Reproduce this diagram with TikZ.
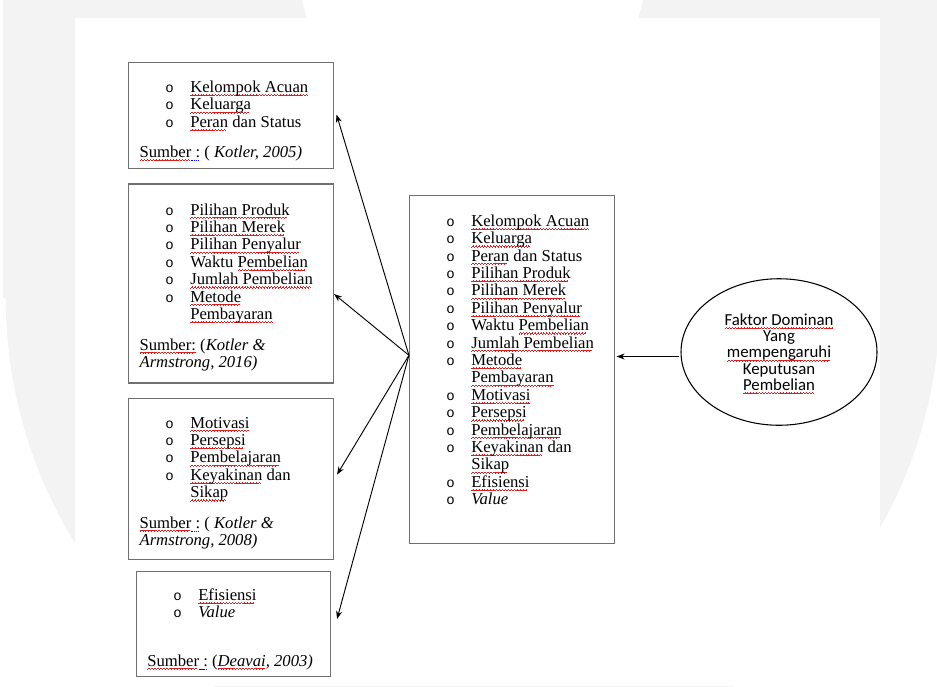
\documentclass[tikz,border=0pt]{standalone}
\usepackage{fontspec}
\setmainfont{Liberation Serif}
\newfontfamily\calfont{Carlito}
\newfontfamily\courfont{Liberation Mono}
\usetikzlibrary{arrows.meta,shapes.geometric,calc}
\definecolor{wm}{RGB}{243,243,243}
\definecolor{bord}{RGB}{112,112,112}
\definecolor{sqred}{RGB}{220,30,30}
\newsavebox\sqbox
\newcommand\wavepiece{\rule[0pt]{0.55pt}{0.5pt}\rule[0.45pt]{0.55pt}{0.5pt}\rule[0.9pt]{0.55pt}{0.5pt}\rule[0.45pt]{0.55pt}{0.5pt}}
\newcommand\rw[1]{\sbox\sqbox{#1}\leavevmode\rlap{\raisebox{-2.7pt}[0pt][0pt]{\color{sqred}\leaders\hbox{\wavepiece}\hskip\wd\sqbox}}\usebox\sqbox}
\newcommand\bw[1]{\sbox\sqbox{#1}\leavevmode\rlap{\raisebox{-2.5pt}[0pt][0pt]{\color{blue}\leaders\hbox{\rule{1.2pt}{0.5pt}\hskip0.4pt}\hskip\wd\sqbox}}\usebox\sqbox}
\newcommand\bu{{\courfont\fontsize{10.5}{10}\selectfont o}&}
\newcommand\blist[1]{\begin{tabular}[t]{@{}p{18.6pt}@{}l@{}}#1\end{tabular}}
\newcommand\slist[1]{\begin{tabular}[t]{@{}l@{}}#1\end{tabular}}
\begin{document}
\begin{tikzpicture}[x=0.75pt,y=-0.75pt,
  box/.style={draw=bord,line width=0.8pt,rectangle,inner sep=0pt},
  txt/.style={inner sep=0pt,anchor=base west,font=\fontsize{12.5}{13.05}\selectfont},
  arr/.style={-{Stealth[length=6pt,width=4.5pt]},line width=0.7pt,black}]
\useasboundingbox (0,0) rectangle (937,686);
% background watermark
\begin{scope}
\clip (0,0) rectangle (937,686);
\fill[wm] (3,0) rectangle (937,298.3);
\fill[wm] (473,298.3) circle[radius=350.4pt];
\fill[white] (75,18) rectangle (880,686);
\fill[white] (472.5,-37.7) circle[radius=130.95pt];
\end{scope}
% boxes
\node[box,minimum width=153.75pt,minimum height=79.7pt] (b1) at (231,115.75) {};
\node[box,minimum width=153.75pt,minimum height=149.25pt] (b2) at (231,283.5) {};
\node[box,minimum width=153.75pt,minimum height=120.75pt] (b3) at (231,479) {};
\node[box,minimum width=145.65pt,minimum height=79.05pt] (b4) at (233.4,624) {};
\node[box,minimum width=153.8pt,minimum height=261.2pt] (cb) at (512,369.65) {};
\node[draw,ellipse,line width=0.8pt,inner sep=0pt,minimum width=147pt,minimum height=109.9pt,
  align=center,font=\calfont\fontsize{12.6}{12.2}\selectfont] (el) at (779,352)
  {\rw{Faktor Dominan}\\Yang\\\rw{mempengaruhi}\\Keputusan\\\rw{Pembelian}};
% box texts
\node[txt] (t1) at (165.2,92.5) {\blist{\bu\rw{Kelompok Acuan}\\ \bu\rw{Keluarga}\\ \bu\rw{Peran} dan Status}};
\node[txt] (s1) at (139.3,157.5) {\slist{\rw{Sumber}\bw{ :} ( \textit{Kotler, 2005)}}};
\node[txt] (t2) at (165.2,215) {\blist{\bu\rw{Pilihan Produk}\\ \bu\rw{Pilihan Merek}\\ \bu\rw{Pilihan Penyalur}\\ \bu Waktu \rw{Pembelian}\\ \bu\rw{Jumlah Pembelian}\\ \bu\rw{Metode}\\ &\rw{Pembayaran}}};
\node[txt] (s2) at (139.3,350) {\slist{\rw{Sumber:} (\textit{Kotler \&}\\ \textit{Armstrong, 2016)}}};
\node[txt] (t3) at (165.2,428) {\blist{\bu\rw{Motivasi}\\ \bu\rw{Persepsi}\\ \bu\rw{Pembelajaran}\\ \bu\rw{Keyakinan} dan\\ &\rw{Sikap}}};
\node[txt] (s3) at (139.3,528) {\slist{\rw{Sumber}\bw{ :} ( \textit{Kotler \&}\\ \textit{Armstrong, 2008)}}};
\node[txt] (t4) at (173.2,600.3) {\blist{\bu\rw{Efisiensi}\\ \bu\textit{Value}}};
\node[txt] (s4) at (147,666) {\slist{\rw{Sumber}\bw{ :} (\textit{\rw{Deavai}, 2003)}}};
\node[txt] (tc) at (446.2,226.3) {\blist{\bu\rw{Kelompok Acuan}\\ \bu\rw{Keluarga}\\ \bu\rw{Peran} dan Status\\ \bu\rw{Pilihan Produk}\\ \bu\rw{Pilihan Merek}\\ \bu\rw{Pilihan Penyalur}\\ \bu Waktu \rw{Pembelian}\\ \bu\rw{Jumlah Pembelian}\\ \bu\rw{Metode}\\ &\rw{Pembayaran}\\ \bu\rw{Motivasi}\\ \bu\rw{Persepsi}\\ \bu\rw{Pembelajaran}\\ \bu\rw{Keyakinan} dan\\ &\rw{Sikap}\\ \bu\rw{Efisiensi}\\ \bu\textit{Value}}};
% connectors
\coordinate (hub) at ($(cb.west)+(0,-14.35)$);
\draw[arr] (hub) -- ($(b1.east)+(2.5,-1.15)$);
\draw[arr] (hub) -- ($(b2.east)+(0,10.5)$);
\draw[arr] (hub) -- ($(b3.east)+(3,-4.4)$);
\draw[arr] (hub) -- ($(b4.east)+(6,-5)$);
\draw[arr] ($(el.west)+(-1,4.5)$) -- ($(cb.east)+(1.5,-13.15)$);
\end{tikzpicture}
\end{document}
